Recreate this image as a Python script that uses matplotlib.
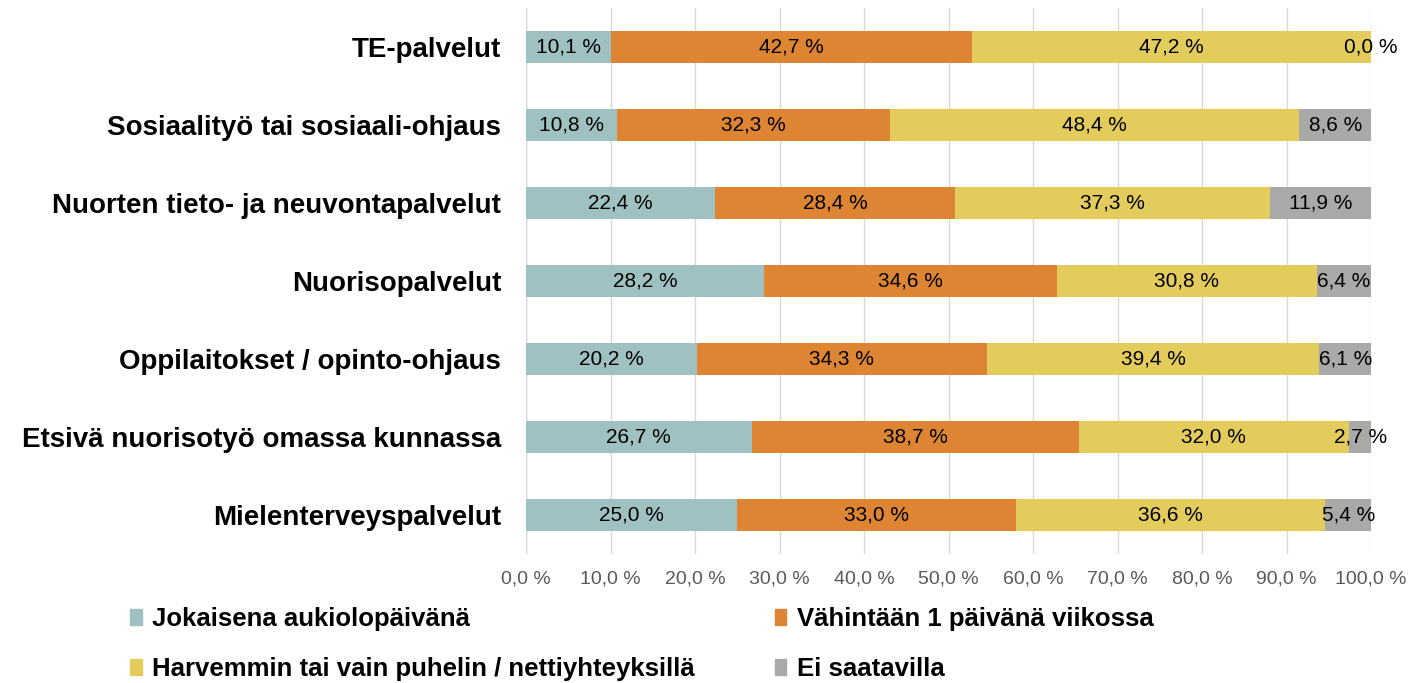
import numpy as np
from matplotlib import pyplot as plt
from matplotlib.patches import Patch

plt.rcParams['font.family'] = ['Liberation Sans', 'DejaVu Sans']

# categories top to bottom
categories = ["TE-palvelut", "Sosiaalityö tai sosiaali-ohjaus",
              "Nuorten tieto- ja neuvontapalvelut", "Nuorisopalvelut",
              "Oppilaitokset / opinto-ohjaus", "Etsivä nuorisotyö omassa kunnassa",
              "Mielenterveyspalvelut"]

series_names = ["Jokaisena aukiolopäivänä", "Vähintään 1 päivänä viikossa",
                "Harvemmin tai vain puhelin / nettiyhteyksillä", "Ei saatavilla"]

jokaisena = [10.1, 10.8, 22.4, 28.2, 20.2, 26.7, 25.0]
vahintaan = [42.7, 32.3, 28.4, 34.6, 34.3, 38.7, 33.0]
harvemmin = [47.2, 48.4, 37.3, 30.8, 39.4, 32.0, 36.6]
ei_saatavilla = [0.0, 8.6, 11.9, 6.4, 6.1, 2.7, 5.4]

colors = ["#A0C1C1", "#DD8532", "#E3CC5C", "#A9A9A7"]

fig = plt.figure(figsize=(14.14, 6.83), dpi=100)
ax = fig.add_axes([0.372, 0.189, 0.5976, 0.799])

y = np.arange(len(categories))
left = np.zeros(len(categories))
for vals, col in zip([jokaisena, vahintaan, harvemmin, ei_saatavilla], colors):
    vals = np.array(vals)
    ax.barh(y, vals, left=left, height=0.41, color=col, zorder=3)
    for yi, (l, v) in enumerate(zip(left, vals)):
        ax.text(l + v / 2, yi, "{:.1f} %".format(v).replace(".", ","),
                ha="center", va="center", fontsize=15, color="black", zorder=4)
    left = left + vals

ax.set_ylim(len(categories) - 0.5, -0.5)
ax.set_xlim(0, 100)
ax.set_xticks(np.arange(0, 101, 10))
ax.set_xticklabels(["{:.1f} %".format(t).replace(".", ",") for t in np.arange(0, 101, 10)],
                   fontsize=14, color="#595959")
ax.set_yticks(y)
ax.set_yticklabels(categories, fontsize=20, fontweight="bold")
ax.tick_params(axis="both", length=0)
ax.tick_params(axis="x", pad=12)
ax.tick_params(axis="y", pad=18)
ax.grid(axis="x", color="#D9D9D9", linewidth=1, zorder=0)
for s in ax.spines.values():
    s.set_visible(False)
ax.axvline(0, color="#D9D9D9", linewidth=1, zorder=2)

# legend rows: Jokaisena / Vähintään, Harvemmin / Ei saatavilla
order = [0, 2, 1, 3]
handles = [Patch(color=colors[i]) for i in order]
labels = [series_names[i] for i in order]
fig.legend(handles, labels, ncol=2, loc="upper left",
           bbox_to_anchor=(0.085, 0.126), frameon=False,
           prop={"size": 18.5, "weight": "bold"},
           handlelength=0.45, handleheight=0.6, handletextpad=0.4,
           columnspacing=3.1, labelspacing=1.0, borderaxespad=0)

fig.savefig("out.png", dpi=100)
